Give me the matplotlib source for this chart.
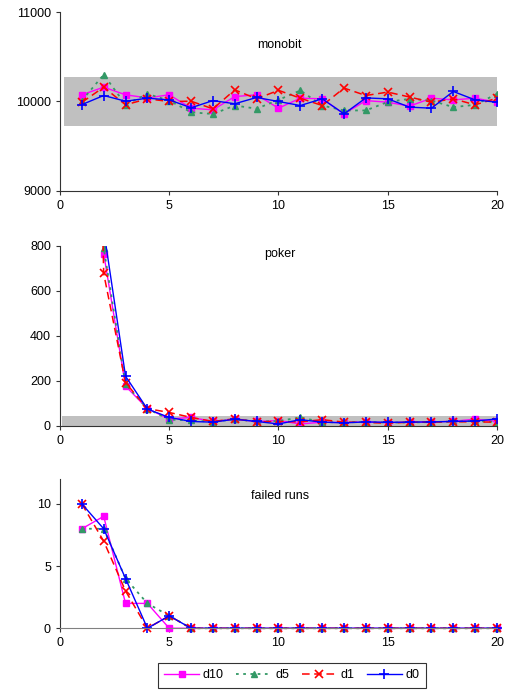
import numpy as np
import matplotlib
matplotlib.use('Agg')
import matplotlib.pyplot as plt

plt.rcParams['font.family'] = ['Liberation Sans', 'DejaVu Sans']
plt.rcParams['font.size'] = 9

x = list(range(1, 21))
series_names = ['d10', 'd5', 'd1', 'd0']

monobit_d10 = [10075, 10160, 10075, 10040, 10075, 9925, 9907, 10055, 10075, 9925,
               10037, 10030, 9862, 10010, 9992, 9948, 10037, 10018, 10037, 9992]
monobit_d5 = [10010, 10300, 9965, 10085, 10010, 9880, 9860, 9955, 9920, 10018,
              10123, 9955, 9900, 9900, 9995, 10030, 10010, 9937, 9963, 10085]
monobit_d1 = [9990, 10160, 9963, 10030, 10000, 10003, 9918, 10130, 10030, 10125,
              10037, 9955, 10150, 10067, 10105, 10050, 9992, 10030, 9963, 10037]
monobit_d0 = [9965, 10067, 10003, 10037, 10018, 9930, 10010, 9975, 10045, 10000,
              9955, 10030, 9862, 10040, 10030, 9937, 9925, 10112, 10018, 9992]

poker_d10 = [5000, 765, 177, 77, 31, 38, 20, 30, 20, 24, 9, 17, 15, 18, 15, 17, 18, 21, 30, 20]
poker_d5 = [5000, 790, 185, 77, 28, 25, 18, 30, 20, 22, 38, 17, 16, 18, 15, 16, 17, 20, 22, 18]
poker_d1 = [5000, 677, 192, 77, 60, 38, 20, 32, 18, 20, 18, 28, 17, 16, 12, 17, 17, 19, 18, 17]
poker_d0 = [5000, 870, 221, 75, 38, 20, 17, 30, 20, 9, 28, 17, 14, 18, 16, 17, 18, 20, 22, 31]

runs_d10 = [8, 9, 2, 2, 0, 0, 0, 0, 0, 0, 0, 0, 0, 0, 0, 0, 0, 0, 0, 0]
runs_d5 = [8, 8, 4, 2, 1, 0, 0, 0, 0, 0, 0, 0, 0, 0, 0, 0, 0, 0, 0, 0]
runs_d1 = [10, 7, 3, 0, 1, 0, 0, 0, 0, 0, 0, 0, 0, 0, 0, 0, 0, 0, 0, 0]
runs_d0 = [10, 8, 4, 0, 1, 0, 0, 0, 0, 0, 0, 0, 0, 0, 0, 0, 0, 0, 0, 0]

# acceptance bands (grey)
monobit_band = (9725, 10275)
poker_band = (0, 45)

styles = {
    'd10': dict(color='#FF00FF', linestyle='-', marker='s', markersize=5, linewidth=1),
    'd5': dict(color='#339966', linestyle=(0, (1.5, 2.5)), marker='^', markersize=5, linewidth=1.3),
    'd1': dict(color='#FF0000', linestyle=(0, (5, 3)), marker='x', markersize=5.5, linewidth=1.1, markeredgewidth=1.2),
    'd0': dict(color='#0000FF', linestyle='-', marker='+', markersize=7, linewidth=1, markeredgewidth=1.2),
}


def style_axes(ax, ylim, yticks):
    ax.set_xlim(0, 20)
    ax.set_ylim(*ylim)
    ax.set_xticks([0, 5, 10, 15, 20])
    ax.set_yticks(yticks)
    for side in ['top', 'right']:
        ax.spines[side].set_visible(False)
    ax.spines['left'].set_color('#333333')
    ax.spines['bottom'].set_color('#333333')
    ax.tick_params(axis='both', direction='out', length=3, color='#333333', labelsize=9)


fig = plt.figure(figsize=(5.05, 6.94), dpi=100)
left, width = 0.1188, 0.8653

ax1 = fig.add_axes([left, 0.7248, width, 0.2579])
ax1.axhspan(*monobit_band, xmin=0.01, xmax=1, color='#C0C0C0', zorder=0, lw=0)
for name, ys in zip(series_names, [monobit_d10, monobit_d5, monobit_d1, monobit_d0]):
    ax1.plot(x, ys, label=name, **styles[name])
style_axes(ax1, (9000, 11000), [9000, 10000, 11000])
ax1.text(0.503, 0.815, 'monobit', transform=ax1.transAxes, ha='center', va='center', fontsize=9)

ax2 = fig.add_axes([left, 0.3862, width, 0.2598])
ax2.axhspan(*poker_band, xmin=0.005, xmax=1, color='#C0C0C0', zorder=0, lw=0)
for name, ys in zip(series_names, [poker_d10, poker_d5, poker_d1, poker_d0]):
    ax2.plot(x, ys, label=name, **styles[name])
style_axes(ax2, (0, 800), [0, 200, 400, 600, 800])
ax2.text(0.503, 0.955, 'poker', transform=ax2.transAxes, ha='center', va='center', fontsize=9)

ax3 = fig.add_axes([left, 0.0947, width, 0.2151])
for name, ys in zip(series_names, [runs_d10, runs_d5, runs_d1, runs_d0]):
    ax3.plot(x, ys, label=name, clip_on=False, **styles[name])
style_axes(ax3, (0, 12), [0, 5, 10])
ax3.spines['bottom'].set_color('#808080')
ax3.text(0.503, 0.885, 'failed runs', transform=ax3.transAxes, ha='center', va='center', fontsize=9)

handles, labels = ax3.get_legend_handles_labels()
leg = fig.legend(handles, labels, loc='center', bbox_to_anchor=(0.578, 0.027), ncol=4,
                 frameon=True, fancybox=False, edgecolor='black', handlelength=2.8,
                 columnspacing=1.0, handletextpad=0.3, borderpad=0.5, fontsize=9)
leg.get_frame().set_linewidth(0.8)

fig.savefig('out.png', dpi=100)
